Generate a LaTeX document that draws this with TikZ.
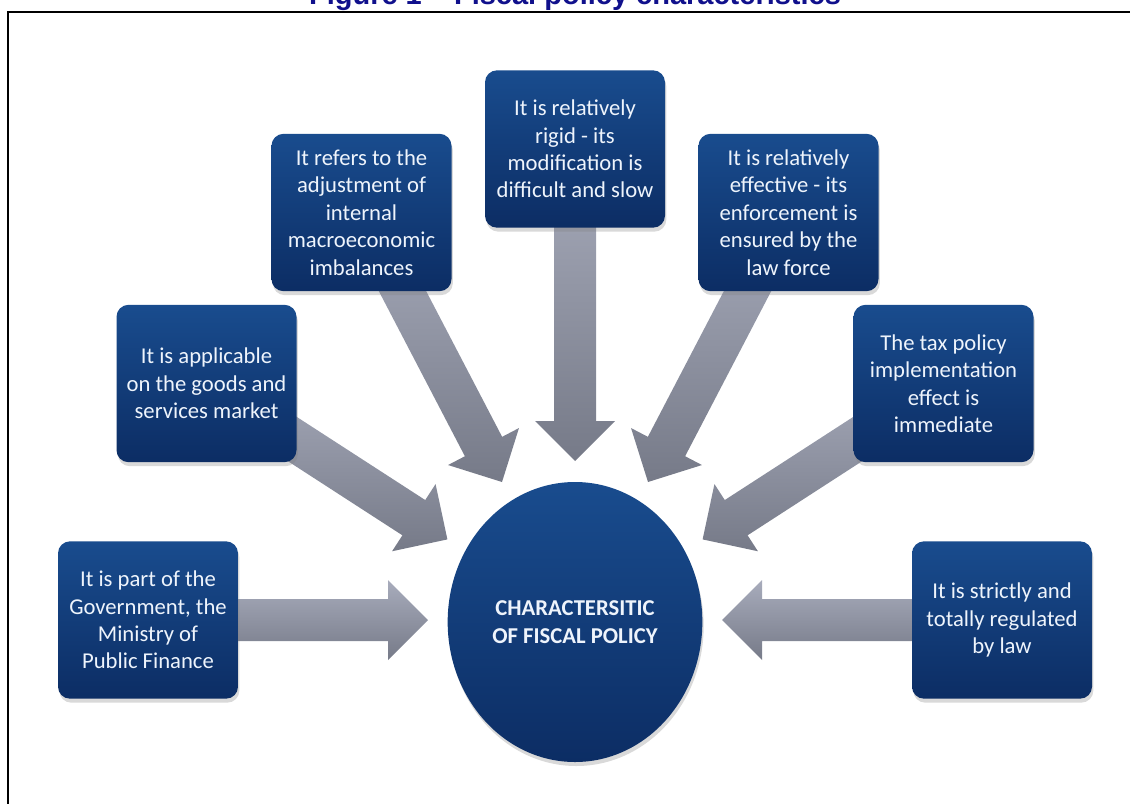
\documentclass[tikz,border=0pt]{standalone}
\usepackage{fontspec}
\setmainfont{Carlito}
\newfontfamily\titlefont{Liberation Sans}
\usetikzlibrary{calc,shapes.geometric,shadows}
\pgfdeclarelayer{background}
\pgfsetlayers{background,main}

\definecolor{boxtop}{RGB}{25,76,142}
\definecolor{boxbot}{RGB}{12,45,100}
\definecolor{boxtext}{RGB}{238,244,252}
\definecolor{arrowlight}{RGB}{168,172,188}
\definecolor{arrowdark}{RGB}{118,122,136}
\definecolor{titleblue}{RGB}{16,16,140}

\tikzset{
  fpbox/.style={rectangle, rounded corners=9pt, minimum width=135pt,
    minimum height=118pt, inner sep=0pt, align=center, text=boxtext,
    font=\fontsize{17}{20.6}\selectfont, top color=boxtop, bottom color=boxbot,
    drop shadow={shadow xshift=1pt, shadow yshift=-3pt, opacity=0.3}},
  fphub/.style={ellipse, minimum width=191pt, minimum height=210pt,
    inner sep=0pt, align=center, text=boxtext,
    font=\fontsize{17}{21}\selectfont\bfseries, top color=boxtop, bottom color=boxbot,
    drop shadow={shadow xshift=1pt, shadow yshift=-3pt, opacity=0.3}},
  arrowshade/.style={top color=arrowlight, bottom color=arrowdark},
}

% block arrow from a box centre (#1) to a tip coordinate (#2)
\newcommand{\fparrow}[2]{%
  \coordinate (#2-h) at ($(#2)!30pt!(#1.center)$);
  \path[arrowshade] ($(#1.center)!15.75pt!90:(#2)$)
    -- ($(#2-h)!15.75pt!90:(#2)$) -- ($(#2-h)!30pt!90:(#2)$)
    -- (#2)
    -- ($(#2-h)!30pt!-90:(#2)$) -- ($(#2-h)!15.75pt!-90:(#2)$)
    -- ($(#1.center)!15.75pt!-90:(#2)$) -- cycle;}

\begin{document}
\begin{tikzpicture}[x=0.75pt,y=-0.75pt]
\useasboundingbox (0,0) rectangle (1130,803);

% caption and frame
\node[font=\titlefont\bfseries\fontsize{21.75}{24}\selectfont, text=titleblue,
  anchor=base, inner sep=0pt] (title) at (575,4) {Figure 1 – Fiscal policy characteristics};
\draw[line width=1.5pt] (7.5,830) -- (7.5,12) -- (1150,12);

% centre
\node[fphub] (hub) at (575,622) {CHARACTERSITIC\\OF FISCAL POLICY};

% characteristics
\node[fpbox] (a) at (148,620) {It is part of the\\Government, the\\Ministry of\\Public Finance};
\node[fpbox] (b) at (206.5,383.5) {It is applicable\\on the goods and\\services market};
\node[fpbox] (c) at (361.5,212.5) {It refers to the\\adjustment of\\internal\\macroeconomic\\imbalances};
\node[fpbox] (d) at (575,149) {It is relatively\\rigid - its\\modification is\\difficult and slow};
\node[fpbox] (e) at (788.5,212.5) {It is relatively\\effective - its\\enforcement is\\ensured by the\\law force};
\node[fpbox] (f) at (943.5,383.5) {The tax policy\\implementation\\effect is\\immediate};
\node[fpbox] (g) at (1002,620) {It is strictly and\\totally regulated\\by law};

% arrow tips around the centre
\coordinate (ta) at (428,620);
\coordinate (tb) at (447.4,539.4);
\coordinate (tc) at (502,482);
\coordinate (td) at (575,461);
\coordinate (te) at (648,482);
\coordinate (tf) at (702.6,539.4);
\coordinate (tg) at (722,620);

\begin{pgfonlayer}{background}
  \fparrow{a}{ta}
  \fparrow{b}{tb}
  \fparrow{c}{tc}
  \fparrow{d}{td}
  \fparrow{e}{te}
  \fparrow{f}{tf}
  \fparrow{g}{tg}
\end{pgfonlayer}
\end{tikzpicture}
\end{document}
